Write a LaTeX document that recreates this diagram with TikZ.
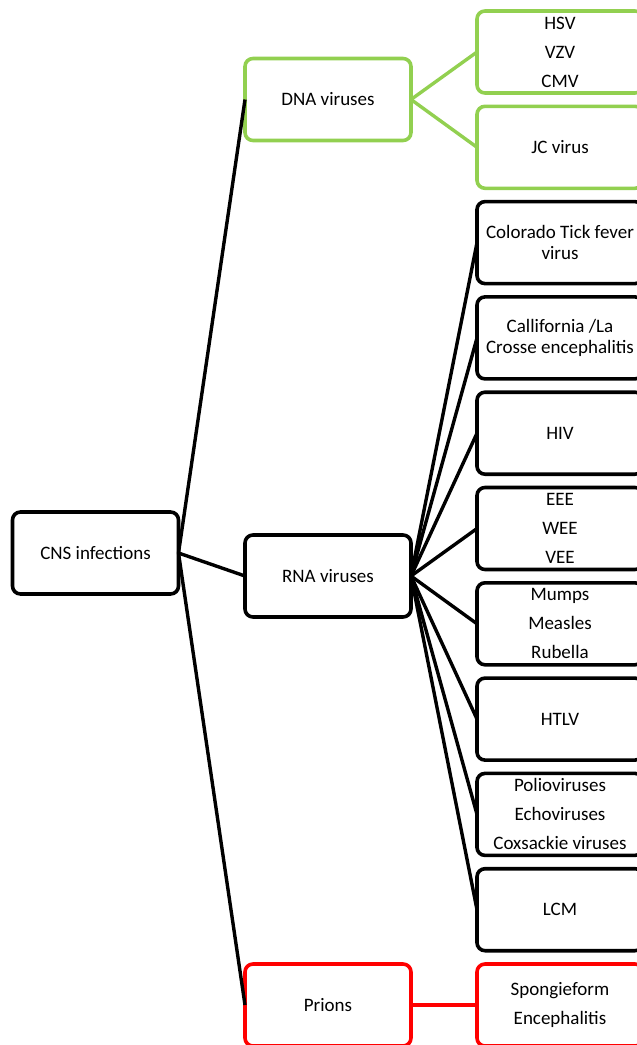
\documentclass[tikz,border=0pt]{standalone}
\usepackage{fontspec}
\setmainfont{Carlito}
\usepackage{tikz}
\usetikzlibrary{positioning}
\definecolor{dnagreen}{RGB}{146,208,80}
\definecolor{prionred}{RGB}{255,0,0}

\begin{document}
\begin{tikzpicture}[
    x=1pt, y=-1pt,
    node distance=13.3pt and 66pt,
    catbox/.style={draw=#1, line width=3.6pt, rounded corners=8pt, fill=white,
                   minimum width=166pt, minimum height=82pt, align=center,
                   inner sep=0pt, outer sep=0pt,
                   font=\fontsize{19}{29}\selectfont},
    catbox/.default=black,
    tight/.style={font=\fontsize{19}{21}\selectfont},
    link/.style={line width=3.4pt, draw=#1},
    link/.default=black,
]
\useasboundingbox (0,0) rectangle (637,1045);

% Root and main groups
\node[catbox] (cns) at (95.5,553) {CNS infections};
\node[catbox=dnagreen]  (dna)    at (328,99.5) {DNA viruses};
\node[catbox]           (rna)    at (328,576)  {RNA viruses};
\node[catbox=prionred]  (prions) at (328,1005) {Prions};

% DNA viruses
\node[catbox=dnagreen] (hsv) at (560,52) {HSV\\VZV\\CMV};
\node[catbox=dnagreen, below=of hsv] (jc) {JC virus};

% RNA viruses
\node[catbox, tight, below=of jc]         (colorado)   {Colorado Tick fever\\virus};
\node[catbox, tight, below=of colorado]   (california) {Callifornia /La\\Crosse encephalitis};
\node[catbox, below=of california]        (hiv)        {HIV};
\node[catbox, below=of hiv]               (eee)        {EEE\\WEE\\VEE};
\node[catbox, below=of eee]               (mumps)      {Mumps\\Measles\\Rubella};
\node[catbox, below=of mumps]             (htlv)       {HTLV};
\node[catbox, below=of htlv]              (polio)      {Polioviruses\\Echoviruses\\Coxsackie viruses};
\node[catbox, below=of polio]             (lcm)        {LCM};

% Prions
\node[catbox=prionred] (spongi) at (560,1005) {Spongieform\\Encephalitis};

% Connectors
\foreach \grp in {dna, rna, prions}
    \draw[link] (cns.east) -- (\grp.west);
\foreach \sub in {hsv, jc}
    \draw[link=dnagreen] (dna.east) -- (\sub.west);
\foreach \sub in {colorado, california, hiv, eee, mumps, htlv, polio, lcm}
    \draw[link] (rna.east) -- (\sub.west);
\draw[link=prionred] (prions.east) -- (spongi.west);

\end{tikzpicture}
\end{document}
